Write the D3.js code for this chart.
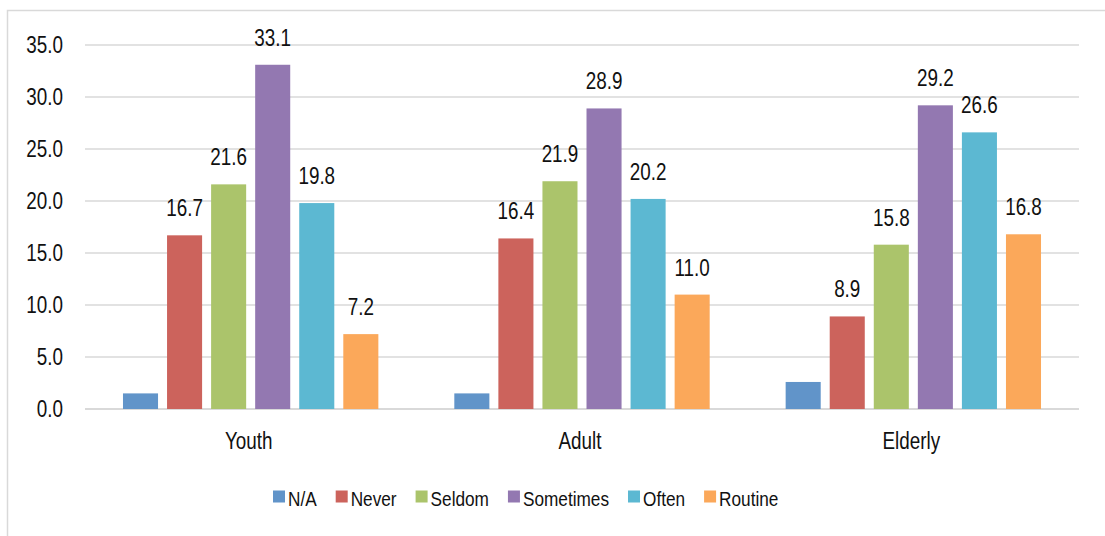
<!DOCTYPE html>
<html>
<head>
<meta charset="utf-8">
<script src="https://cdn.jsdelivr.net/npm/d3@7"></script>
<style>
  html, body { margin: 0; padding: 0; background: #fff; }
  svg { display: block; }
  text { font-family: "Liberation Sans", Arial, sans-serif; fill: #111; }
</style>
</head>
<body>
<svg id="chart" width="1105" height="536"></svg>
<script>
const categories = ["Youth", "Adult", "Elderly"];
const seriesNames = ["N/A", "Never", "Seldom", "Sometimes", "Often", "Routine"];
const seriesColors = ["#6194c9", "#cc635c", "#abc46b", "#9378b1", "#5cb8d2", "#fba85a"];
const valuesNA        = [1.5, 1.5, 2.6];
const valuesNever     = [16.7, 16.4, 8.9];
const valuesSeldom    = [21.6, 21.9, 15.8];
const valuesSometimes = [33.1, 28.9, 29.2];
const valuesOften     = [19.8, 20.2, 26.6];
const valuesRoutine   = [7.2, 11.0, 16.8];
const showLabel = [false, true, true, true, true, true];
const yTicks = [0, 5, 10, 15, 20, 25, 30, 35];

const seriesValues = [valuesNA, valuesNever, valuesSeldom, valuesSometimes, valuesOften, valuesRoutine];

const svg = d3.select("#chart");
const SX = 0.82;

// outer border
svg.append("rect").attr("x", 7.5).attr("y", 10.5).attr("width", 1120).attr("height", 560)
  .attr("fill", "none").attr("stroke", "#d9d9d9").attr("stroke-width", 1.5);

const plotL = 85, plotR = 1079, plotT = 45, plotB = 409;

const x0 = d3.scaleBand().domain(categories).range([plotL, plotR]).paddingInner(0).paddingOuter(0);
const x1 = d3.scaleBand().domain(seriesNames).range([0, x0.bandwidth()]).paddingInner(0.2045).paddingOuter(0.862);
const y = d3.scaleLinear().domain([0, 35]).range([plotB, plotT]);

function sText(g, x, yy, str, size, anchor) {
  return g.append("text")
    .attr("transform", `translate(${x},${yy}) scale(${SX},1)`)
    .attr("text-anchor", anchor)
    .style("font-size", size + "px")
    .text(str);
}

// gridlines
const grid = svg.append("g");
grid.selectAll("line").data(yTicks).join("line")
  .attr("x1", plotL).attr("x2", plotR)
  .attr("y1", d => y(d)).attr("y2", d => y(d))
  .attr("stroke", "#d9d9d9").attr("stroke-width", d => d === 0 ? 2 : 1.5);

// y tick labels
const yl = svg.append("g");
yTicks.forEach(t => sText(yl, 63, y(t) + 8, d3.format(".1f")(t), 23, "end"));

// bars
const groups = svg.append("g").selectAll("g").data(categories).join("g")
  .attr("transform", d => `translate(${x0(d)},0)`);

seriesNames.forEach((s, si) => {
  groups.append("rect")
    .attr("x", x1(s))
    .attr("width", x1.bandwidth())
    .attr("y", (d, ci) => y(seriesValues[si][ci]))
    .attr("height", (d, ci) => y(0) - y(seriesValues[si][ci]))
    .attr("fill", seriesColors[si]);
});

// value labels
const lbl = svg.append("g");
categories.forEach((c, ci) => {
  seriesNames.forEach((s, si) => {
    if (!showLabel[si]) return;
    const v = seriesValues[si][ci];
    sText(lbl, x0(c) + x1(s) + x1.bandwidth() / 2, y(v) - 19, d3.format(".1f")(v), 23, "middle");
  });
});

// category labels
const cl = svg.append("g");
categories.forEach(c => sText(cl, x0(c) + x0.bandwidth() / 2 - 2, 449, c, 23, "middle"));

// legend
const lg = svg.append("g");
let lx = 273;
seriesNames.forEach((s, si) => {
  lg.append("rect").attr("x", lx).attr("y", 490.5).attr("width", 12).attr("height", 12).attr("fill", seriesColors[si]);
  const t = sText(lg, lx + 15, 506, s, 21, "start");
  const w = t.node().getComputedTextLength() * SX;
  lx = lx + 15 + w + 19;
});
</script>
</body>
</html>
